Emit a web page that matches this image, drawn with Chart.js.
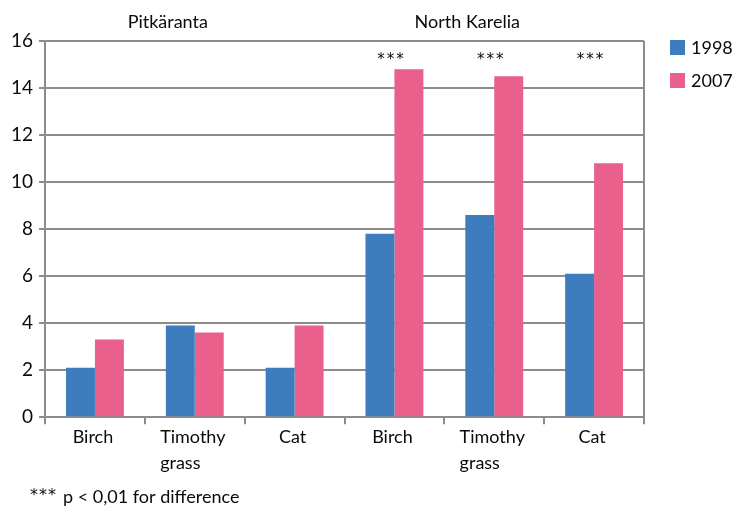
<!DOCTYPE html>
<html>
<head>
<meta charset="utf-8">
<script src="https://cdn.jsdelivr.net/npm/chart.js@4/dist/chart.umd.min.js"></script>
<style>
  html, body { margin: 0; padding: 0; background: #fff; }
  #wrap { width: 734px; height: 508px; position: relative; }
</style>
</head>
<body>
<div id="wrap"><canvas id="c"></canvas></div>
<script>
// Allergen categories, grouped by region
const categories = [["Birch"], ["Timothy", "grass"], ["Cat"], ["Birch"], ["Timothy", "grass"], ["Cat"]];
const regions = ["Pitkäranta", "North Karelia"];
const years = ["1998", "2007"];
const values1998 = [2.1, 3.9, 2.1, 7.8, 8.6, 6.1];
const values2007 = [3.3, 3.6, 3.9, 14.8, 14.5, 10.8];
const significance = ["", "", "", "***", "***", "***"];
const yTicks = [0, 2, 4, 6, 8, 10, 12, 14, 16];
const footnoteMark = "***";
const footnoteText = "p < 0,01 for difference";

const FONT = "Lato, 'Open Sans', sans-serif";
const STAR_FONT = "'DejaVu Sans', sans-serif";
const BLUE = "#3d7dbd";
const PINK = "#e9608c";
const GRID = "#8c8c8c";
const INK = "#0a0a0a";

const annotations = {
  id: "annotations",
  afterDraw(chart) {
    const { ctx, chartArea, scales } = chart;
    const x = scales.x;
    ctx.save();
    ctx.fillStyle = INK;
    ctx.textBaseline = "middle";

    // right border of the plot
    ctx.strokeStyle = GRID;
    ctx.lineWidth = 2;
    ctx.beginPath();
    ctx.moveTo(chartArea.right, chartArea.top);
    ctx.lineTo(chartArea.right, chartArea.bottom);
    ctx.stroke();

    // region headings
    ctx.font = "18px " + FONT;
    ctx.textAlign = "center";
    regions.forEach((r, i) => {
      const c = (x.getPixelForValue(i * 3) + x.getPixelForValue(i * 3 + 2)) / 2 - 27;
      ctx.fillText(r, c, chartArea.top - 19);
    });

    // significance markers
    ctx.font = "15px " + STAR_FONT;
    ctx.letterSpacing = "2px";
    significance.forEach((s, i) => {
      if (s) ctx.fillText(s, x.getPixelForValue(i) - 3, chartArea.top + 19);
    });
    ctx.letterSpacing = "0px";

    // category labels, lines left-aligned within each label
    ctx.font = "18px " + FONT;
    ctx.textAlign = "left";
    categories.forEach((lines, i) => {
      const w = Math.max(...lines.map(l => ctx.measureText(l).width));
      const left = x.getPixelForValue(i) - w / 2 - 2;
      lines.forEach((l, j) => ctx.fillText(l, left, chartArea.bottom + 20 + j * 26));
    });

    // legend
    ctx.font = "18px " + FONT;
    chart.data.datasets.forEach((ds, i) => {
      const y = chartArea.top + 6 + i * 33;
      ctx.fillStyle = ds.backgroundColor;
      ctx.fillRect(670, y - 7, 15, 15);
      ctx.fillStyle = INK;
      ctx.fillText(ds.label, 691, y + 1);
    });

    // footnote
    ctx.font = "16px " + STAR_FONT;
    ctx.letterSpacing = "1px";
    ctx.fillText(footnoteMark, 30, 496);
    const markW = ctx.measureText(footnoteMark).width;
    ctx.letterSpacing = "0px";
    ctx.font = "18px " + FONT;
    ctx.fillText(footnoteText, 30 + markW + 6, 497);
    ctx.restore();
  }
};

new Chart(document.getElementById("c"), {
  type: "bar",
  data: {
    labels: categories,
    datasets: [
      { label: years[0], data: values1998, backgroundColor: BLUE },
      { label: years[1], data: values2007, backgroundColor: PINK }
    ]
  },
  options: {
    responsive: true,
    maintainAspectRatio: false,
    animation: false,
    layout: { padding: { left: 5, right: 90, top: 41, bottom: 35 } },
    datasets: { bar: { categoryPercentage: 0.58, barPercentage: 1.0 } },
    plugins: { legend: { display: false }, tooltip: { enabled: false } },
    scales: {
      x: {
        grid: { offset: true, drawOnChartArea: false, color: GRID, lineWidth: 2, tickLength: 7 },
        border: { color: GRID, width: 2 },
        ticks: { color: "rgba(0,0,0,0)", font: { family: FONT, size: 17 }, padding: 4 }
      },
      y: {
        min: 0, max: 16,
        afterBuildTicks: s => { s.ticks = yTicks.map(v => ({ value: v })); },
        grid: { color: GRID, lineWidth: 2, tickLength: 6 },
        border: { color: GRID, width: 2 },
        ticks: { color: INK, font: { family: FONT, size: 19 }, padding: 6 }
      }
    }
  },
  plugins: [annotations]
});
</script>
</body>
</html>
